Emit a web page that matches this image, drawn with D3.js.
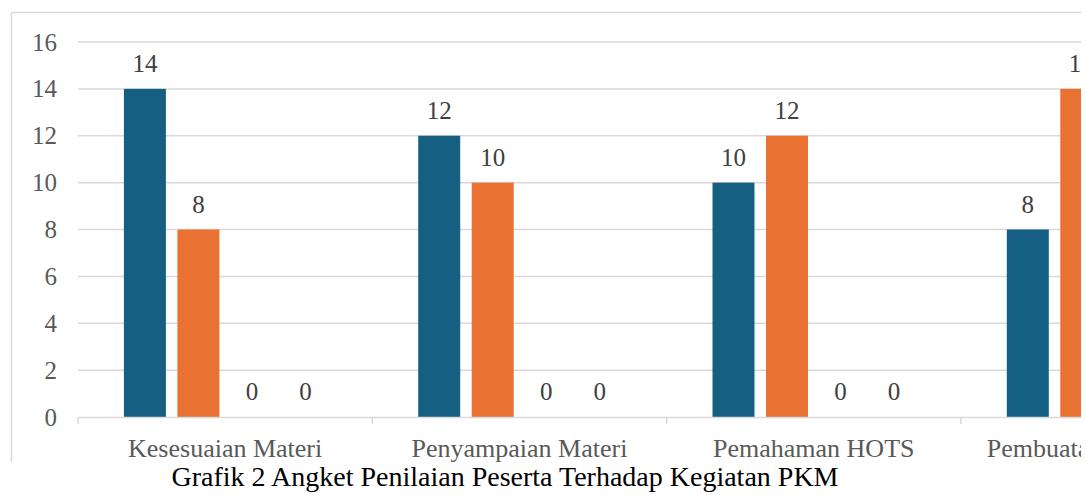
<!DOCTYPE html>
<html>
<head>
<meta charset="utf-8">
<script src="https://cdn.jsdelivr.net/npm/d3@7"></script>
<style>
  html, body { margin: 0; padding: 0; background: #fff; overflow: hidden; }
  svg { display: block; }
  text { font-family: "Liberation Serif", "Times New Roman", serif; }
</style>
</head>
<body>
<svg id="chart" width="1086" height="495"></svg>
<script>
// Data
const categories = ["Kesesuaian Materi", "Penyampaian Materi", "Pemahaman HOTS", "Pembuatan Soal HOTS"];
const seriesNames = ["Sangat Setuju", "Setuju", "Tidak Setuju", "Sangat Tidak Setuju"];
const seriesColors = ["#156082", "#E97132", "#196B24", "#0F9ED5"];
const sangatSetuju = [14, 12, 10, 8];
const setuju = [8, 10, 12, 14];
const tidakSetuju = [0, 0, 0, 0];
const sangatTidakSetuju = [0, 0, 0, 0];
const yTicks = [0, 2, 4, 6, 8, 10, 12, 14, 16];
const title = "Grafik 2 Angket Penilaian Peserta Terhadap Kegiatan PKM";

const seriesValues = [sangatSetuju, setuju, tidakSetuju, sangatTidakSetuju];

const svg = d3.select("#chart");

// the chart image is cropped at its right edge
svg.append("defs").append("clipPath").attr("id", "crop")
  .append("rect").attr("x", 0).attr("y", 0).attr("width", 1081).attr("height", 465);
const chart = svg.append("g").attr("clip-path", "url(#crop)");

// chart frame (cropped on right and bottom)
chart.append("line").attr("x1", 11.5).attr("x2", 1086).attr("y1", 12.5).attr("y2", 12.5)
  .attr("stroke", "#D9D9D9").attr("stroke-width", 1.5);
chart.append("line").attr("x1", 11.5).attr("x2", 11.5).attr("y1", 12.5).attr("y2", 462)
  .attr("stroke", "#D9D9D9").attr("stroke-width", 1.5);

const plotLeft = 78, bandW = 294.3;
const x0 = d3.scaleBand().domain(categories)
  .range([plotLeft, plotLeft + bandW * categories.length]).padding(0);
const x1 = d3.scaleBand().domain(seriesNames)
  .range([0, x0.bandwidth()]).paddingInner(0.215).paddingOuter(0.858);
const y = d3.scaleLinear().domain([0, 16]).range([417, 42]);

// gridlines
chart.append("g").selectAll("line").data(yTicks.filter(d => d > 0)).join("line")
  .attr("x1", plotLeft).attr("x2", 1086)
  .attr("y1", d => y(d)).attr("y2", d => y(d))
  .attr("stroke", "#D9D9D9").attr("stroke-width", 1.5);

// y tick labels
chart.append("g").selectAll("text").data(yTicks).join("text")
  .attr("x", 57).attr("y", d => y(d)).attr("dy", "0.34em")
  .attr("text-anchor", "end").attr("fill", "#595959").attr("font-size", 25)
  .text(d => d);

// bars
const groups = chart.append("g").selectAll("g").data(categories).join("g")
  .attr("transform", c => `translate(${x0(c)},0)`);

groups.each(function(c, ci) {
  const g = d3.select(this);
  seriesNames.forEach((s, si) => {
    const v = seriesValues[si][ci];
    if (v > 0) {
      g.append("rect")
        .attr("x", x1(s)).attr("width", x1.bandwidth())
        .attr("y", y(v)).attr("height", y(0) - y(v))
        .attr("fill", seriesColors[si]);
    }
    g.append("text")
      .attr("x", x1(s) + x1.bandwidth() / 2).attr("y", y(v) - 17)
      .attr("text-anchor", "middle").attr("fill", "#404040").attr("font-size", 25)
      .text(v);
  });
});

// x axis
const axisY = 417.5;
chart.append("line").attr("x1", plotLeft).attr("x2", 1086).attr("y1", axisY).attr("y2", axisY)
  .attr("stroke", "#D9D9D9").attr("stroke-width", 1.5);
const tickXs = categories.map(c => x0(c)).concat([x0.range()[1]]);
chart.append("g").selectAll("line").data(tickXs).join("line")
  .attr("x1", d => d).attr("x2", d => d).attr("y1", axisY).attr("y2", 424)
  .attr("stroke", "#D9D9D9").attr("stroke-width", 1.5);

chart.append("g").selectAll("text").data(categories).join("text")
  .attr("x", c => x0(c) + x0.bandwidth() / 2).attr("y", 457)
  .attr("text-anchor", "middle").attr("fill", "#595959").attr("font-size", 26)
  .text(c => c);

// title
svg.append("text").attr("x", 505).attr("y", 486).attr("text-anchor", "middle")
  .attr("fill", "#000").attr("font-size", 28).text(title);
</script>
</body>
</html>
